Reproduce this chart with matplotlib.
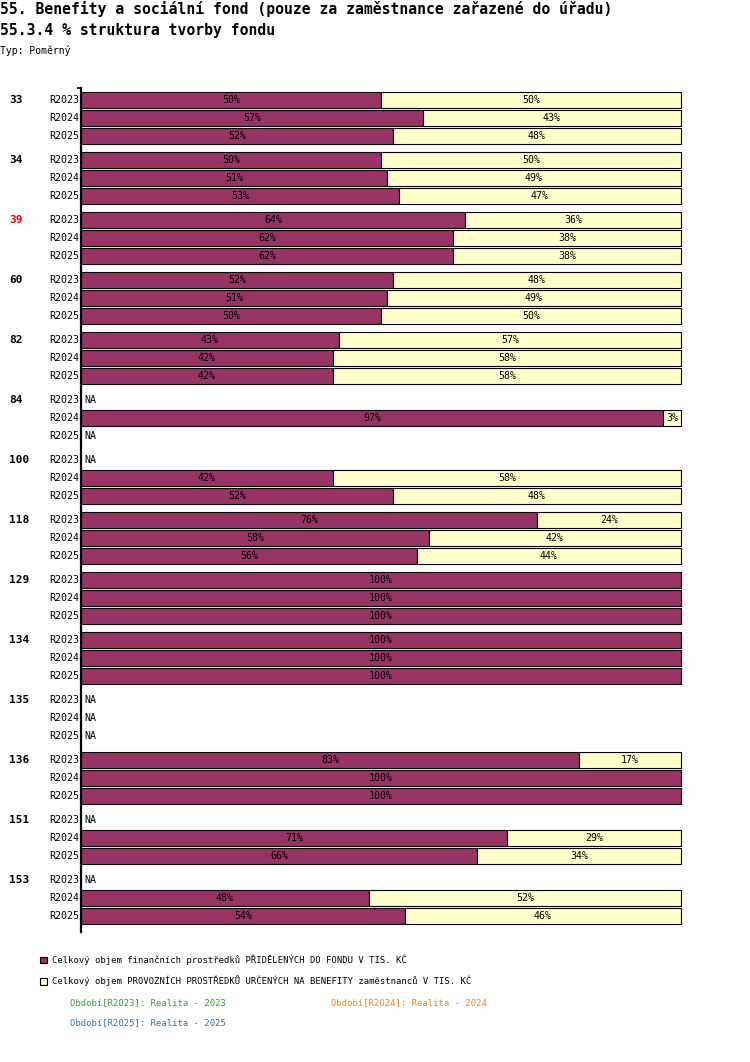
import matplotlib
matplotlib.use("Agg")
import matplotlib.pyplot as plt
from matplotlib.patches import Patch

# ---------------------------------------------------------------- data
GROUPS  = ["33", "34", "39", "60", "82", "84", "100", "118",
           "129", "134", "135", "136", "151", "153"]
PERIODS = ["R2023", "R2024", "R2025"]

# share of first series (PŘIDĚLENÝCH DO FONDU), None = NA
ALLOCATED = [
    [50, 57, 52],
    [50, 51, 53],
    [64, 62, 62],
    [52, 51, 50],
    [43, 42, 42],
    [None, 97, None],
    [None, 42, 52],
    [76, 58, 56],
    [100, 100, 100],
    [100, 100, 100],
    [None, None, None],
    [83, 100, 100],
    [None, 71, 66],
    [None, 48, 54],
]
# share of second series (PROVOZNÍCH PROSTŘEDKŮ NA BENEFITY)
OPERATING = [
    [50, 43, 48],
    [50, 49, 47],
    [36, 38, 38],
    [48, 49, 50],
    [57, 58, 58],
    [None, 3, None],
    [None, 58, 48],
    [24, 42, 44],
    [0, 0, 0],
    [0, 0, 0],
    [None, None, None],
    [17, 0, 0],
    [None, 29, 34],
    [None, 52, 46],
]
HIGHLIGHT = {"39"}

SERIES_LABELS = [
    "Celkový objem finančních prostředků PŘIDĚLENÝCH DO FONDU V TIS. KČ",
    "Celkový objem PROVOZNÍCH PROSTŘEDKŮ URČENÝCH NA BENEFITY zaměstnanců V TIS. KČ",
]
PERIOD_NOTES = [
    ("Období[R2023]: Realita - 2023", "#2ca02c"),
    ("Období[R2024]: Realita - 2024", "#ff7f0e"),
    ("Období[R2025]: Realita - 2025", "#1f77b4"),
]

MAROON = "#993366"
CREAM  = "#ffffcc"
W, H   = 750, 1062
FONT   = "DejaVu Sans Mono"

plt.rcParams["font.family"] = FONT

# ---------------------------------------------------------------- layout
fig = plt.figure(figsize=(W / 100, H / 100), dpi=100)
ax_left, ax_right, ax_top, ax_bot = 81, 681, 88, 932
ax = fig.add_axes([ax_left / W, 1 - ax_bot / H,
                   (ax_right - ax_left) / W, (ax_bot - ax_top) / H])

GROUP_STEP, ROW_STEP, BAR_H = 60, 18, 16
ax.set_xlim(0, 100)
ax.set_ylim((len(GROUPS) - 1) * GROUP_STEP + 2 * ROW_STEP + 16, -12)

for g, name in enumerate(GROUPS):
    y0 = g * GROUP_STEP
    ax.text(-12, y0, name, ha="left", va="center", fontsize=8,
            fontweight="bold", color="red" if name in HIGHLIGHT else "black")
    for r, per in enumerate(PERIODS):
        y = y0 + r * ROW_STEP
        ax.text(-0.35, y, per, ha="right", va="center", fontsize=7.2)
        a, b = ALLOCATED[g][r], OPERATING[g][r]
        if a is None:
            ax.text(0.5, y, "NA", ha="left", va="center", fontsize=7.2)
            continue
        ax.barh(y, a, left=0, height=BAR_H, color=MAROON,
                edgecolor="black", linewidth=0.8, clip_on=False)
        ax.text(a / 2, y, f"{a}%", ha="center", va="center", fontsize=7.2)
        if b:
            ax.barh(y, b, left=a, height=BAR_H, color=CREAM,
                    edgecolor="black", linewidth=0.8, clip_on=False)
            ax.text(a + b / 2, y, f"{b}%", ha="center", va="center", fontsize=7.2)

for s in ["top", "right", "bottom"]:
    ax.spines[s].set_visible(False)
ax.spines["left"].set_linewidth(1.6)
ax.spines["left"].set_zorder(5)
ax.set_xticks([])
ax.set_yticks([ax.get_ylim()[1]])
ax.set_yticklabels([""])
ax.tick_params(axis="y", length=3, width=1.2)

# ---------------------------------------------------------------- titles
fig.text(0, 1 - 9 / H, "55. Benefity a sociální fond (pouze za zaměstnance zařazené do úřadu)",
         ha="left", va="center", fontsize=10.6, fontweight="bold")
fig.text(0, 1 - 30 / H, "55.3.4 % struktura tvorby fondu",
         ha="left", va="center", fontsize=10.6, fontweight="bold")
fig.text(0, 1 - 50 / H, "Typ: Poměrný", ha="left", va="center", fontsize=7)

# ---------------------------------------------------------------- legend
handles = [Patch(facecolor=MAROON, edgecolor="black", linewidth=0.8),
           Patch(facecolor=CREAM, edgecolor="black", linewidth=0.8)]
fig.legend(handles, SERIES_LABELS, loc="upper left",
           bbox_to_anchor=(36 / W, 1 - 950 / H), frameon=False,
           fontsize=6.4, handlelength=0.75, handleheight=0.75,
           handletextpad=0.5, labelspacing=1.2, borderpad=0)

note_pos = [(70, 1003), (331, 1003), (70, 1023)]
for (txt, col), (px, py) in zip(PERIOD_NOTES, note_pos):
    fig.text(px / W, 1 - py / H, txt, ha="left", va="center",
             fontsize=6.4, color=col)

fig.savefig("out.png", dpi=100)
